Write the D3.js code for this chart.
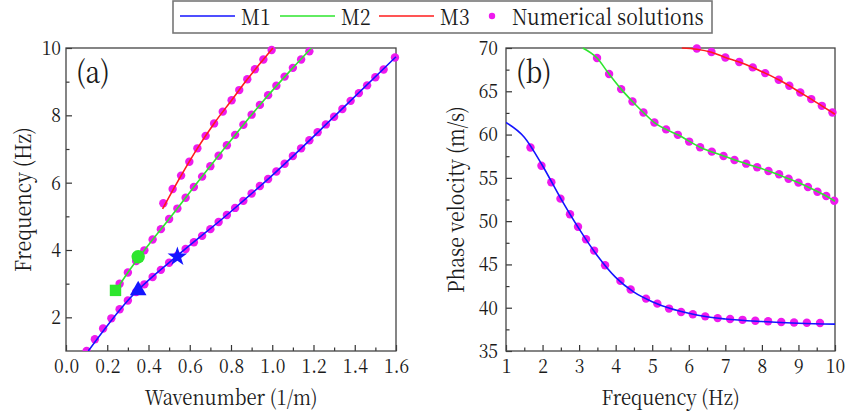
<!DOCTYPE html>
<html>
<head>
<meta charset="utf-8">
<script src="https://cdn.jsdelivr.net/npm/d3@7"></script>
<style>
  body { margin: 0; background: #fff; }
  svg { display: block; }
  svg text { font-family: "Noto Serif CJK SC", "Liberation Serif", serif; fill: #1a1a1a; }
</style>
</head>
<body>
<div id="chart"></div>
<script>
// ---- data ----
// panel (a): wavenumber k (1/m) vs frequency f (Hz), numerical points
var m1K = [0.10,0.14,0.18,0.22,0.26,0.30,0.34,0.38,0.42,0.46,0.50,0.54,0.58,0.62,0.66,0.70,0.74,0.78,0.82,0.86,0.90,0.94,0.98,1.02,1.06,1.10,1.14,1.18,1.22,1.26,1.30,1.34,1.38,1.42,1.46,1.50,1.54,1.595];
var m1F = [1.00,1.35,1.67,1.97,2.24,2.50,2.75,2.98,3.20,3.41,3.62,3.83,4.03,4.23,4.42,4.62,4.83,5.04,5.25,5.46,5.68,5.90,6.11,6.33,6.56,6.79,7.02,7.26,7.50,7.73,7.96,8.19,8.43,8.66,8.89,9.13,9.36,9.72];
var m2K = [0.26,0.30,0.34,0.38,0.42,0.46,0.50,0.54,0.58,0.62,0.66,0.70,0.74,0.78,0.82,0.86,0.90,0.94,0.98,1.02,1.06,1.10,1.14,1.18];
var m2F = [3.00,3.33,3.67,3.99,4.31,4.62,4.92,5.23,5.55,5.87,6.18,6.49,6.80,7.11,7.42,7.72,8.02,8.31,8.60,8.88,9.15,9.41,9.66,9.90];
var m3K = [0.472,0.517,0.558,0.598,0.637,0.677,0.718,0.760,0.803,0.840,0.879,0.916,0.957,0.997];
var m3F = [5.39,5.81,6.21,6.62,7.02,7.39,7.76,8.11,8.45,8.75,9.07,9.37,9.66,9.94];
// analytical curves in (a)
var lineAK1 = [0.108,0.30,0.54,0.78,1.02,1.30,1.60];
var lineAF1 = [1.00,2.50,3.83,5.04,6.33,7.96,9.74];
var lineAK2 = [0.245,0.30,0.40,0.50,0.62,0.78,0.94,1.10,1.19];
var lineAF2 = [2.82,3.33,4.15,4.92,5.87,7.11,8.31,9.41,10.0];
var lineAK3 = [0.468,0.558,0.637,0.718,0.803,0.879,0.957,1.003];
var lineAF3 = [5.22,6.21,7.02,7.76,8.45,9.07,9.66,10.0];
// special markers in (a)
var markK = [0.24, 0.35, 0.35, 0.54];
var markF = [2.8, 3.8, 2.8, 3.8];
var markShape = ["square", "circle", "triangle", "star"];
var markMode = ["M2", "M2", "M1", "M1"];

// panel (b): frequency (Hz) vs phase velocity (m/s)
var dotBF1 = [1.67,1.97,2.24,2.49,2.75,2.97,3.19,3.41,3.71,4.13,4.41,4.83,5.14,5.46,5.79,6.11,6.45,6.79,7.13,7.47,7.82,8.17,8.53,8.88,9.23,9.59];
var dotBC1 = [58.5,56.4,54.5,52.6,50.8,49.35,47.9,46.6,44.9,43.1,42.1,41.05,40.47,39.9,39.5,39.24,39.0,38.8,38.7,38.6,38.5,38.43,38.35,38.3,38.27,38.24];
var dotBF2 = [3.49,3.82,4.15,4.46,4.76,5.06,5.38,5.70,6.01,6.31,6.63,6.95,7.25,7.57,7.87,8.18,8.47,8.73,9.00,9.26,9.52,9.76,9.98];
var dotBC2 = [68.84,66.99,65.25,63.82,62.55,61.39,60.6,59.97,59.19,58.54,58.03,57.53,57.07,56.64,56.23,55.8,55.42,54.9,54.45,53.95,53.4,52.9,52.36];
var dotBF3 = [6.22,6.62,7.00,7.38,7.75,8.09,8.46,8.75,9.05,9.35,9.64,9.93];
var dotBC3 = [69.95,69.54,68.91,68.38,67.76,67.1,66.33,65.64,64.86,64.1,63.32,62.55];
var lineBF1 = [1.0,1.5,2.0,2.5,3.0,3.5,4.0,4.5,5.0,5.5,6.0,6.5,7.0,8.0,9.0,10.0];
var lineBC1 = [61.4,59.7,56.4,52.6,49.1,46.0,43.5,41.8,40.7,39.9,39.35,38.95,38.7,38.4,38.2,38.1];
var lineBF2 = [3.10,3.49,3.82,4.15,4.46,4.76,5.06,5.38,5.70,6.31,6.95,7.57,8.18,8.73,9.26,9.76,10.0];
var lineBC2 = [70.0,68.84,66.99,65.25,63.82,62.55,61.39,60.6,59.97,58.54,57.53,56.64,55.8,54.9,53.95,52.9,52.3];
var lineBF3 = [5.81,6.22,6.62,7.00,7.38,7.75,8.09,8.46,8.75,9.05,9.35,9.64,10.0];
var lineBC3 = [70.0,69.85,69.5,68.91,68.38,67.76,67.1,66.33,65.64,64.86,64.1,63.32,62.35];

// ticks
var xTicksA = [0,0.2,0.4,0.6,0.8,1.0,1.2,1.4,1.6];
var yTicksA = [2,4,6,8,10];
var xTicksB = [1,2,3,4,5,6,7,8,9,10];
var yTicksB = [35,40,45,50,55,60,65,70];
var legendNames = ["M1", "M2", "M3", "Numerical solutions"];

// ---- style ----
var serif = '"Noto Serif CJK SC", "Liberation Serif", serif';
var colors = { M1: "#1414ff", M2: "#2ee62e", M3: "#ff1c1c", dot: "#ee1aee" };
var squeezeK = 0.88;   // narrow the serif glyphs a bit, closer to Times widths
var W = 847, H = 414;
var svg = d3.select("#chart").append("svg").attr("width", W).attr("height", H)
  .style("font-family", serif);

function zip(a, b) { return a.map(function(v, i) { return [v, b[i]]; }); }

function panel(opt) {
  var x = d3.scaleLinear().domain(opt.xDom).range([opt.left, opt.right]);
  var y = d3.scaleLinear().domain(opt.yDom).range([opt.bottom, opt.top]);
  var g = svg.append("g");
  var clipId = "clip" + opt.name;
  svg.append("clipPath").attr("id", clipId).append("rect")
    .attr("x", opt.left).attr("y", opt.top - 6)
    .attr("width", opt.right - opt.left + 6).attr("height", opt.bottom - opt.top + 6);

  // minor ticks
  g.append("g").attr("transform", "translate(0," + opt.bottom + ")")
    .call(d3.axisBottom(x).tickValues(opt.xMinor).tickSize(-3.5).tickFormat(""))
    .call(function(s) { s.select(".domain").remove(); });
  g.append("g").attr("transform", "translate(" + opt.left + ",0)")
    .call(d3.axisLeft(y).tickValues(opt.yMinor).tickSize(-3.5).tickFormat(""))
    .call(function(s) { s.select(".domain").remove(); });
  // major ticks
  g.append("g").attr("transform", "translate(0," + opt.bottom + ")")
    .call(d3.axisBottom(x).tickValues(opt.xTicks).tickSizeInner(-6).tickSizeOuter(0).tickPadding(8).tickFormat(opt.xFmt));
  g.append("g").attr("transform", "translate(" + opt.left + ",0)")
    .call(d3.axisLeft(y).tickValues(opt.yTicks).tickSizeInner(-6).tickSizeOuter(0).tickPadding(opt.yPad).tickFormat(d3.format("d")));
  g.selectAll("g").attr("font-family", null).attr("font-size", null);
  g.selectAll(".domain").remove();
  g.selectAll(".tick line").attr("stroke", "#333").attr("stroke-width", 1.2);
  g.selectAll(".tick text").style("font-family", serif).style("font-size", "20px").attr("fill", "#1a1a1a");

  // frame
  g.append("rect").attr("x", opt.left).attr("y", opt.top)
    .attr("width", opt.right - opt.left).attr("height", opt.bottom - opt.top)
    .attr("fill", "none").attr("stroke", "#444").attr("stroke-width", 1.3);

  var plot = svg.append("g").attr("clip-path", "url(#" + clipId + ")");
  // numerical dots under the lines
  opt.dots.forEach(function(set) {
    plot.selectAll(null).data(set).enter().append("circle")
      .attr("cx", function(d) { return x(d[0]); })
      .attr("cy", function(d) { return y(d[1]); })
      .attr("r", 4.2).attr("fill", colors.dot);
  });
  var line = d3.line().x(function(d) { return x(d[0]); }).y(function(d) { return y(d[1]); })
    .curve(d3.curveMonotoneX);
  opt.lines.forEach(function(set) {
    plot.append("path").datum(set.pts).attr("d", line)
      .attr("fill", "none").attr("stroke", colors[set.mode]).attr("stroke-width", 1.6);
  });

  // axis titles
  svg.append("text").attr("x", (opt.left + opt.right) / 2).attr("y", 405)
    .attr("text-anchor", "middle").style("font-size", "21px").text(opt.xTitle);
  svg.append("text").attr("transform", "translate(" + opt.yTitleX + "," + (opt.top + opt.bottom) / 2 + ") rotate(-90)")
    .attr("text-anchor", "middle").style("font-size", "22px").text(opt.yTitle);
  svg.append("text").attr("x", opt.left + 10).attr("y", opt.top + 35)
    .style("font-size", "30px").text(opt.label);
  return { x: x, y: y, plot: plot };
}

// ---- panel (a) ----
var pa = panel({
  name: "a", left: 66, right: 396, top: 48, bottom: 351,
  xDom: [0, 1.6], yDom: [1, 10],
  xTicks: xTicksA, yTicks: yTicksA,
  xMinor: d3.range(1, 16, 2).map(function(v) { return v / 10; }),
  yMinor: [3, 5, 7, 9],
  xFmt: d3.format(".1f"), yPad: 5,
  xTitle: "Wavenumber (1/m)", yTitle: "Frequency (Hz)", yTitleX: 31, label: "(a)",
  dots: [zip(m1K, m1F), zip(m2K, m2F), zip(m3K, m3F)],
  lines: [
    { mode: "M1", pts: zip(lineAK1, lineAF1) },
    { mode: "M2", pts: zip(lineAK2, lineAF2) },
    { mode: "M3", pts: zip(lineAK3, lineAF3) }
  ]
});

// special markers
var shapes = { square: d3.symbolSquare, circle: d3.symbolCircle, triangle: d3.symbolTriangle, star: d3.symbolStar };
var shapeSize = { square: 130, circle: 140, triangle: 120, star: 120 };
svg.selectAll(".mark").data(markK).enter().append("path")
  .attr("class", "mark")
  .attr("transform", function(d, i) { return "translate(" + pa.x(d) + "," + pa.y(markF[i]) + ")"; })
  .attr("d", function(d, i) { return d3.symbol().type(shapes[markShape[i]]).size(shapeSize[markShape[i]])(); })
  .attr("fill", function(d, i) { return colors[markMode[i]]; });

// ---- panel (b) ----
panel({
  name: "b", left: 506, right: 835, top: 48, bottom: 351,
  xDom: [1, 10], yDom: [35, 70],
  xTicks: xTicksB, yTicks: yTicksB,
  xMinor: d3.range(1.5, 10, 1),
  yMinor: d3.range(37.5, 70, 5),
  xFmt: d3.format("d"), yPad: 8,
  xTitle: "Frequency (Hz)", yTitle: "Phase velocity (m/s)", yTitleX: 464, label: "(b)",
  dots: [zip(dotBF1, dotBC1), zip(dotBF2, dotBC2), zip(dotBF3, dotBC3)],
  lines: [
    { mode: "M1", pts: zip(lineBF1, lineBC1) },
    { mode: "M2", pts: zip(lineBF2, lineBC2) },
    { mode: "M3", pts: zip(lineBF3, lineBC3) }
  ]
});

// ---- legend ----
var leg = svg.append("g");
leg.append("rect").attr("x", 173).attr("y", 1).attr("width", 539).attr("height", 32)
  .attr("fill", "#fff").attr("stroke", "#777").attr("stroke-width", 1.6);
var legX = [180, 280, 379];
legendNames.slice(0, 3).forEach(function(name, i) {
  leg.append("line").attr("x1", legX[i]).attr("x2", legX[i] + 55).attr("y1", 16).attr("y2", 16)
    .attr("stroke", colors[name]).attr("stroke-width", 1.6);
  leg.append("text").attr("x", legX[i] + 61).attr("y", 25).style("font-size", "22px").text(name);
});
leg.append("circle").attr("cx", 492).attr("cy", 16).attr("r", 3.2).attr("fill", colors.dot);
leg.append("text").attr("x", 512).attr("y", 25).style("font-size", "22px").text(legendNames[3]);

// narrow every label a little (glyph squeeze, same look as the condensed original)
svg.selectAll("text").each(function() {
  var len = this.getComputedTextLength();
  if (len > 0) d3.select(this).attr("textLength", len * squeezeK).attr("lengthAdjust", "spacingAndGlyphs");
});
</script>
</body>
</html>
